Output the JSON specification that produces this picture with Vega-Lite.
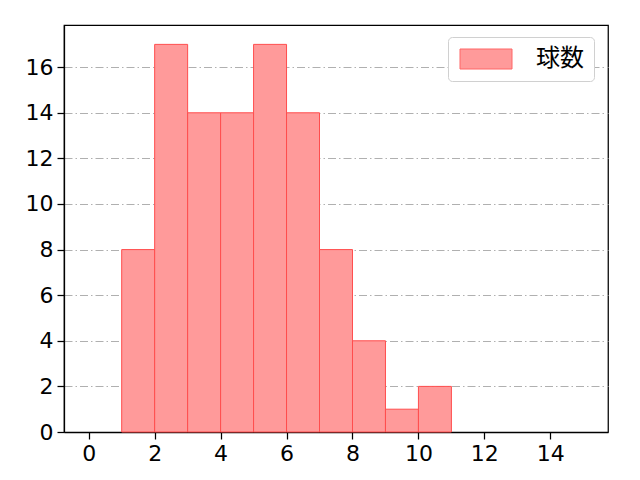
{
  "$schema": "https://vega.github.io/schema/vega-lite/v6.json",
  "autosize": "none",
  "width": 544,
  "height": 407,
  "padding": {"left": 64, "top": 25, "right": 32, "bottom": 48},
  "config": {
    "font": "Noto Sans CJK JP",
    "view": {"stroke": "black", "strokeWidth": 1.25},
    "axis": {
      "labelFont": "DejaVu Sans",
      "labelFontSize": 22,
      "labelColor": "black",
      "domainColor": "black",
      "domainWidth": 1.25,
      "tickColor": "black",
      "tickSize": 7,
      "tickWidth": 1.25,
      "labelPadding": 4,
      "title": null
    }
  },
  "data": {
    "values": [
      {"bin_start": 0, "bin_end": 1, "count": 0, "series": "球数"},
      {"bin_start": 1, "bin_end": 2, "count": 8, "series": "球数"},
      {"bin_start": 2, "bin_end": 3, "count": 17, "series": "球数"},
      {"bin_start": 3, "bin_end": 4, "count": 14, "series": "球数"},
      {"bin_start": 4, "bin_end": 5, "count": 14, "series": "球数"},
      {"bin_start": 5, "bin_end": 6, "count": 17, "series": "球数"},
      {"bin_start": 6, "bin_end": 7, "count": 14, "series": "球数"},
      {"bin_start": 7, "bin_end": 8, "count": 8, "series": "球数"},
      {"bin_start": 8, "bin_end": 9, "count": 4, "series": "球数"},
      {"bin_start": 9, "bin_end": 10, "count": 1, "series": "球数"},
      {"bin_start": 10, "bin_end": 11, "count": 2, "series": "球数"},
      {"bin_start": 11, "bin_end": 12, "count": 0, "series": "球数"},
      {"bin_start": 12, "bin_end": 13, "count": 0, "series": "球数"},
      {"bin_start": 13, "bin_end": 14, "count": 0, "series": "球数"},
      {"bin_start": 14, "bin_end": 15, "count": 0, "series": "球数"}
    ]
  },
  "transform": [{"filter": "datum.count > 0"}],
  "mark": {"type": "bar", "stroke": "#ff4d4d", "strokeWidth": 1, "fillOpacity": 1},
  "encoding": {
    "x": {
      "field": "bin_start",
      "type": "quantitative",
      "scale": {"domain": [-0.75, 15.75], "nice": false, "zero": false, "padding": 0},
      "axis": {"values": [0, 2, 4, 6, 8, 10, 12, 14], "grid": false}
    },
    "x2": {"field": "bin_end"},
    "y": {
      "field": "count",
      "type": "quantitative",
      "scale": {"domain": [0, 17.85], "nice": false, "padding": 0},
      "axis": {
        "values": [0, 2, 4, 6, 8, 10, 12, 14, 16],
        "grid": true,
        "gridColor": "#b0b0b0",
        "gridDash": [8, 3, 1.5, 3],
        "gridWidth": 1
      }
    },
    "y2": {"datum": 0},
    "fill": {
      "field": "series",
      "type": "nominal",
      "scale": {"range": ["#ff9a9a"]},
      "legend": {
        "title": null,
        "orient": "none",
        "legendX": 384,
        "legendY": 12,
        "padding": 10,
        "strokeColor": "#d0d0d0",
        "cornerRadius": 4,
        "fillColor": "white",
        "symbolType": "M-2.6,-1H2.6V1H-2.6Z",
        "symbolSize": 400,
        "symbolOffset": 16,
        "symbolStrokeColor": "#ff6666",
        "symbolStrokeWidth": 1,
        "labelFontSize": 24,
        "labelOffset": 38,
        "labelColor": "black"
      }
    }
  }
}
